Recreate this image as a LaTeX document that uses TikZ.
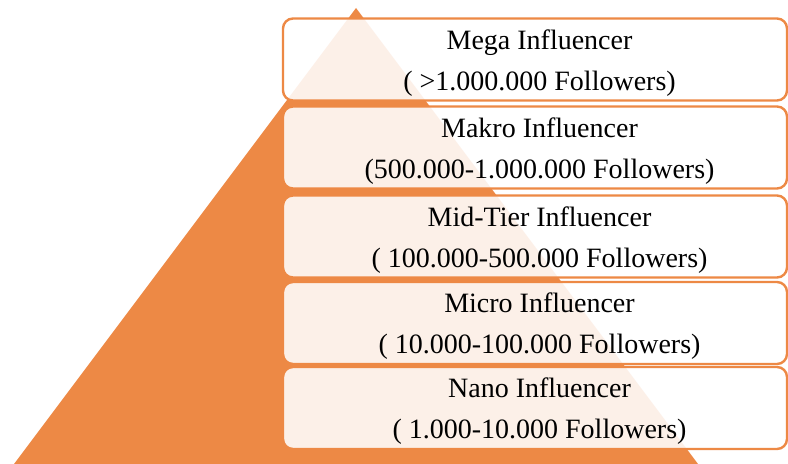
\documentclass[tikz,border=0pt]{standalone}
\usepackage{fontspec}
\setmainfont{Liberation Serif}
\definecolor{pyrorange}{RGB}{237,137,69}
\begin{document}
\begin{tikzpicture}[x=1bp,y=-1bp,
  tier/.style={draw=pyrorange, line width=2.4bp, rounded corners=10bp,
    fill=white, fill opacity=0.88,
    minimum width=504bp, minimum height=82bp, inner sep=0pt},
  tiertext/.style={text opacity=1, align=center, inner sep=0pt,
    xshift=4.5bp, yshift=-3.5bp,
    font=\fontsize{28bp}{41bp}\selectfont}]
\useasboundingbox (0,0) rectangle (788,464);
\begin{scope}
  \clip (0,0) rectangle (788,464);
  % pyramid behind the tier boxes
  \fill[pyrorange] (356,8) -- (14,464) -- (698,464) -- cycle;
\end{scope}
% tiers, top to bottom
\node[tier, label={[tiertext]center:Mega Influencer\\( >1.000.000 Followers)}] (mega) at (535,59.5) {};
\node[tier, label={[tiertext]center:Makro Influencer\\(500.000-1.000.000 Followers)}] (makro) at (535,147.5) {};
\node[tier, label={[tiertext]center:Mid-Tier Influencer\\( 100.000-500.000 Followers)}] (mid) at (535,236.5) {};
\node[tier, label={[tiertext]center:Micro Influencer\\( 10.000-100.000 Followers)}] (micro) at (535,323) {};
\node[tier, label={[tiertext]center:Nano Influencer\\( 1.000-10.000 Followers)}] (nano) at (535,408) {};
\end{tikzpicture}
\end{document}
